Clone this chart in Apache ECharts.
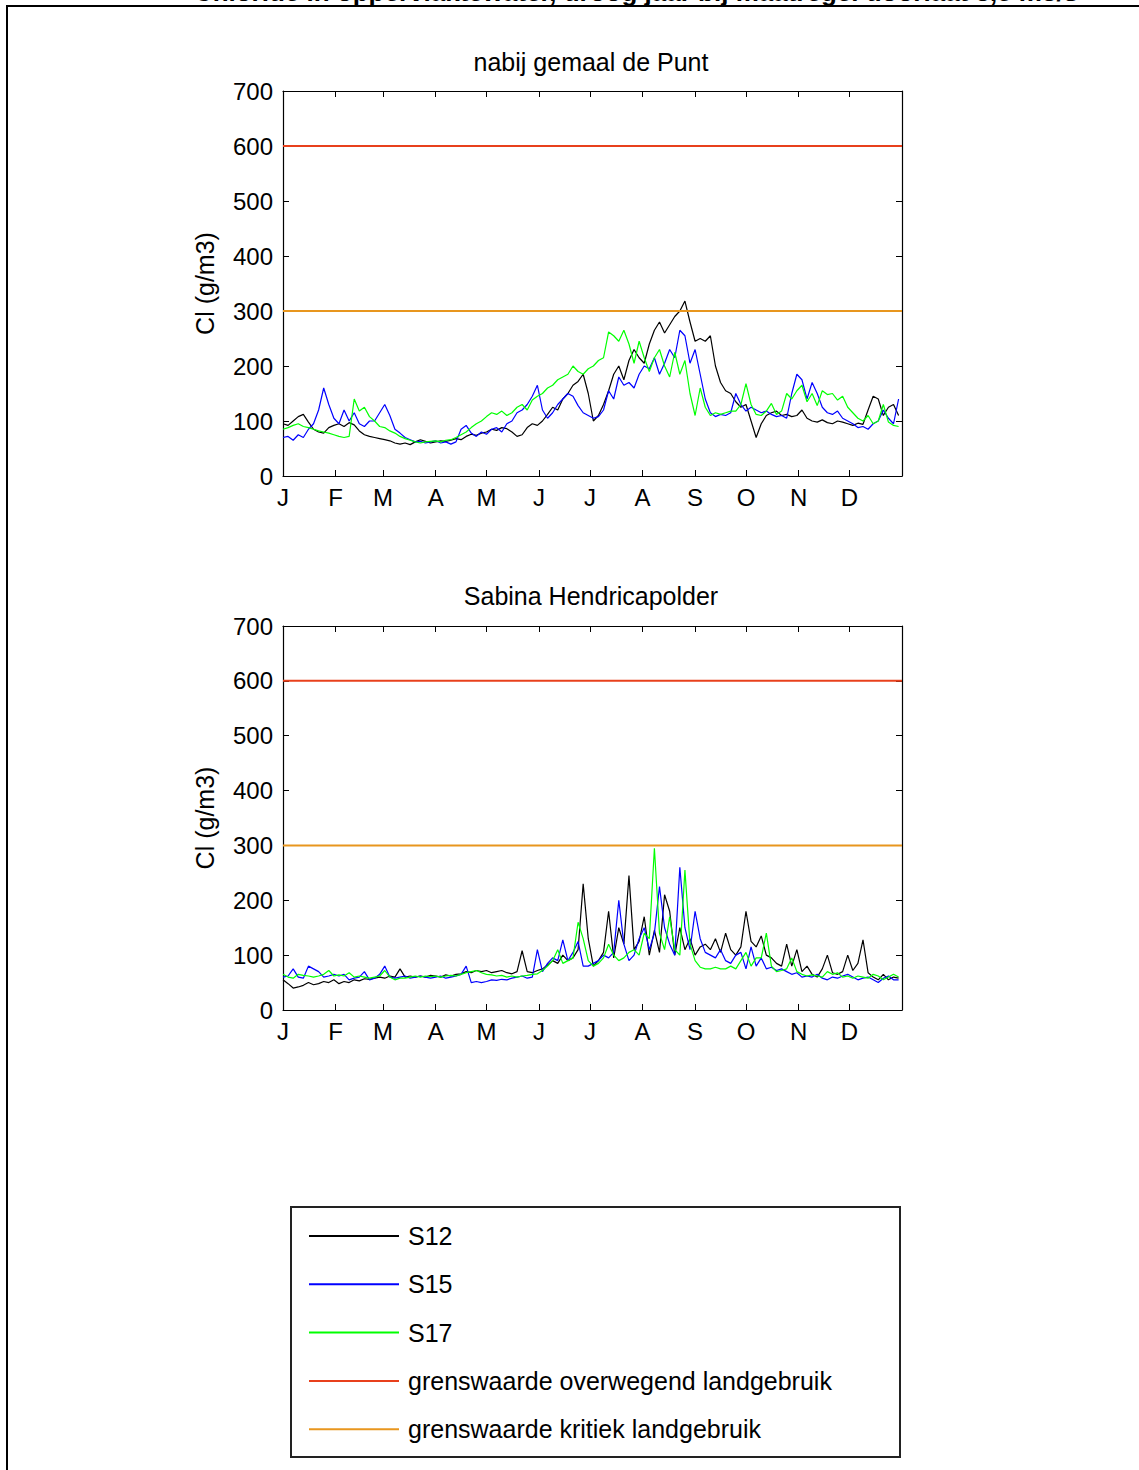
<!DOCTYPE html>
<html>
<head>
<meta charset="utf-8">
<script src="https://cdn.jsdelivr.net/npm/echarts@6/dist/echarts.min.js"></script>
<style>
html,body{margin:0;padding:0;background:#fff;}
#chart{width:1139px;height:1470px;}
</style>
</head>
<body>
<div id="chart"></div>
<script>
// ---- data ----
const chartTitle = 'Chloride in oppervlaktewater, droog jaar bij maatregel doorlaat 3,5 m3/s';
const panelTitles = ['nabij gemaal de Punt', 'Sabina Hendricapolder'];
const yAxisName = 'Cl (g/m3)';
const monthStarts = [0, 31, 59, 90, 120, 151, 181, 212, 243, 273, 304, 334, 365];
const monthLabels = ['J', 'F', 'M', 'A', 'M', 'J', 'J', 'A', 'S', 'O', 'N', 'D'];
const yTicks = [0, 100, 200, 300, 400, 500, 600, 700];
const dayStep = 3; // one value every 3 days, starting 1 January
const seriesNames = ['S12', 'S15', 'S17'];
const limitNames = ['grenswaarde overwegend landgebruik', 'grenswaarde kritiek landgebruik'];
const limitValues = [600, 300];

// nabij gemaal de Punt
const puntS12 = [95,92,100,108,112,98,85,80,78,88, 92,95,90,97,93,82,75,72,70,68, 66,64,60,58,60,57,62,66,63,60,
  62,64,63,65,68,66,72,76,74,78, 80,85,83,88,86,80,72,75,88,95, 92,100,112,125,120,140,150,165,172,185,
  150,100,110,130,155,185,200,175,210,230, 215,205,240,265,280,260,275,290,300,318, 280,245,250,245,255,200,170,155,150,135,
  125,130,100,70,95,110,115,118,110,112, 108,110,120,105,100,98,102,97,95,100, 98,95,92,96,94,120,145,140,110,125, 130,110];
const puntS15 = [70,72,65,75,70,85,95,120,160,130, 105,95,120,100,115,95,90,100,100,115, 130,110,85,78,70,66,62,63,60,62,
  64,60,62,58,62,85,92,78,72,80, 76,85,88,80,95,100,115,120,130,145, 165,120,105,115,130,140,150,145,128,115,
  110,105,108,120,155,140,180,165,170,160, 185,200,195,215,185,205,230,215,265,255, 205,230,185,140,115,108,112,110,115,150,
  130,118,125,120,115,118,112,108,110,105, 150,185,175,140,170,150,125,115,112,118, 105,100,95,88,90,85,95,100,120,105, 95,140];
const puntS17 = [85,88,92,95,90,88,85,82,80,78, 75,72,70,72,140,118,125,108,100,90, 88,82,78,72,68,65,62,60,62,63,
  64,62,65,66,70,75,80,88,95,100, 108,115,112,118,110,115,125,130,120,138, 145,150,160,165,175,180,185,200,190,185,
  195,200,210,215,262,255,245,265,240,205, 245,215,190,215,230,200,180,225,185,210, 150,110,160,125,110,115,112,115,118,118,
  130,168,130,112,110,118,132,112,118,150, 140,155,165,135,150,128,155,148,150,138, 145,125,115,105,100,110,95,100,130,98, 92,90];

// Sabina Hendricapolder
const sabinaS12 = [55,48,40,42,45,50,46,48,52,50, 55,48,52,50,55,53,57,56,58,60, 58,62,60,75,60,62,60,62,60,63,
  62,60,64,62,65,66,70,68,72,70, 72,68,70,72,68,66,70,108,70,68, 72,75,82,90,85,100,90,95,110,230,
  130,80,90,105,180,95,150,120,245,110, 125,170,100,145,105,210,180,100,150,110, 130,100,115,120,110,130,105,140,110,100,
  115,180,125,115,135,100,95,85,80,120, 80,110,70,80,65,60,75,100,68,65, 70,100,72,85,128,68,60,55,65,55, 60,58];
const sabinaS15 = [60,62,75,60,58,80,75,70,60,62, 65,62,65,55,58,60,70,55,58,65, 80,60,58,60,62,58,60,62,60,58,
  60,62,58,60,62,65,80,50,52,50, 52,55,54,56,55,58,60,62,58,60, 110,70,85,95,90,128,90,105,125,80,
  80,85,90,100,95,105,200,120,90,100, 130,150,110,140,225,150,120,100,260,150, 110,180,130,105,100,95,110,90,85,100,
  105,75,115,80,95,75,78,72,75,70, 65,68,60,62,60,65,58,55,60,58, 62,65,60,55,58,60,55,50,58,62, 55,55];
const sabinaS17 = [65,60,58,65,63,62,60,62,65,72, 62,64,62,68,60,62,60,58,60,62, 72,60,55,58,58,60,62,60,62,61,
  62,60,62,63,62,65,68,70,72,68, 65,64,62,63,60,62,60,62,63,65, 66,72,80,90,110,85,90,95,160,130,
  90,80,85,95,120,100,90,95,105,110, 100,140,130,295,140,110,170,110,100,255, 120,90,78,75,75,78,75,75,80,75,
  90,105,80,95,95,140,80,70,72,75, 95,70,65,62,64,62,60,70,65,68, 60,62,58,62,60,58,65,62,55,60, 65,60];

const panelData = [[puntS12, puntS15, puntS17], [sabinaS12, sabinaS15, sabinaS17]];

// ---- styling ----
const FONT = 'Liberation Sans, Arial, Helvetica, sans-serif';
const seriesColors = ['#000000', '#0000ff', '#00ff00'];
const limitColors = ['#e8401c', '#e8961e'];
const grids = [
  {left: 283, top: 91, width: 619, height: 385},
  {left: 283, top: 626, width: 619, height: 384}
];

function toPairs(vals) { return vals.map((v, i) => [i * dayStep, v]); }

const xAxes = [], yAxes = [], series = [];
grids.forEach((g, gi) => {
  const tickCommon = {show: true, inside: true, length: 6, lineStyle: {color: '#000', width: 1}};
  xAxes.push({
    type: 'value', gridIndex: gi, min: 0, max: 365, position: 'bottom',
    axisLine: {show: true, onZero: false, lineStyle: {color: '#000', width: 1.2}},
    axisTick: Object.assign({customValues: monthStarts}, tickCommon),
    axisLabel: {customValues: monthStarts.slice(0, 12), color: '#000', fontSize: 24, fontFamily: FONT, margin: 9,
      formatter: v => { const k = monthStarts.indexOf(v); return k >= 0 && k < 12 ? monthLabels[k] : ''; }},
    splitLine: {show: false}
  });
  xAxes.push({
    type: 'value', gridIndex: gi, min: 0, max: 365, position: 'top',
    axisLine: {show: true, onZero: false, lineStyle: {color: '#000', width: 1.2}},
    axisTick: Object.assign({customValues: monthStarts}, tickCommon),
    axisLabel: {show: false}, splitLine: {show: false}
  });
  yAxes.push({
    type: 'value', gridIndex: gi, min: 0, max: 700, interval: 100, position: 'left',
    name: yAxisName, nameLocation: 'middle', nameGap: 66,
    nameTextStyle: {color: '#000', fontSize: 25, fontFamily: FONT},
    axisLine: {show: true, onZero: false, lineStyle: {color: '#000', width: 1.2}},
    axisTick: tickCommon,
    axisLabel: {color: '#000', fontSize: 24, fontFamily: FONT, margin: 10,
      formatter: v => yTicks.indexOf(v) >= 0 ? String(v) : ''},
    splitLine: {show: false}
  });
  yAxes.push({
    type: 'value', gridIndex: gi, min: 0, max: 700, interval: 100, position: 'right',
    axisLine: {show: true, onZero: false, lineStyle: {color: '#000', width: 1.2}},
    axisTick: tickCommon, axisLabel: {show: false}, splitLine: {show: false}
  });
  panelData[gi].forEach((vals, si) => {
    series.push({
      name: seriesNames[si], type: 'line', xAxisIndex: gi * 2, yAxisIndex: gi * 2,
      data: toPairs(vals), showSymbol: false, symbol: 'none', silent: true,
      itemStyle: {color: seriesColors[si]},
      lineStyle: {color: seriesColors[si], width: 1.2}
    });
  });
  limitValues.forEach((lv, li) => {
    series.push({
      name: limitNames[li], type: 'line', xAxisIndex: gi * 2, yAxisIndex: gi * 2,
      data: [[0, lv], [365, lv]], showSymbol: false, symbol: 'none', silent: true,
      itemStyle: {color: limitColors[li]},
      lineStyle: {color: limitColors[li], width: 2}
    });
  });
});

const option = {
  backgroundColor: '#ffffff',
  animation: false,
  grid: grids.map(g => Object.assign({containLabel: false}, g)),
  xAxis: xAxes,
  yAxis: yAxes,
  series: series,
  legend: {
    data: seriesNames.concat(limitNames),
    orient: 'vertical', left: 309, top: 1223, padding: 0,
    icon: 'rect', itemWidth: 90, itemHeight: 2, itemGap: 22.3,
    selectedMode: false,
    textStyle: {color: '#000', fontSize: 25, fontFamily: FONT, lineHeight: 26, padding: [0, 0, 0, 4]}
  },
  graphic: [
    {type: 'rect', silent: true, shape: {x: 7, y: 6, width: 1200, height: 1500},
      style: {fill: 'none', stroke: '#000', lineWidth: 2}},
    {type: 'text', silent: true, x: 636, y: 5,
      style: {text: chartTitle, font: 'bold 26px ' + FONT, fill: '#000', align: 'center', verticalAlign: 'bottom'}},
    {type: 'text', silent: true, x: 591, y: 62,
      style: {text: panelTitles[0], font: '25px ' + FONT, fill: '#000', align: 'center', verticalAlign: 'middle'}},
    {type: 'text', silent: true, x: 591, y: 596,
      style: {text: panelTitles[1], font: '25px ' + FONT, fill: '#000', align: 'center', verticalAlign: 'middle'}},
    {type: 'rect', silent: true, shape: {x: 291, y: 1207, width: 609, height: 250},
      style: {fill: 'none', stroke: '#222', lineWidth: 2}}
  ]
};

const chart = echarts.init(document.getElementById('chart'), null, {renderer: 'svg', width: 1139, height: 1470});
chart.setOption(option);
</script>
</body>
</html>
